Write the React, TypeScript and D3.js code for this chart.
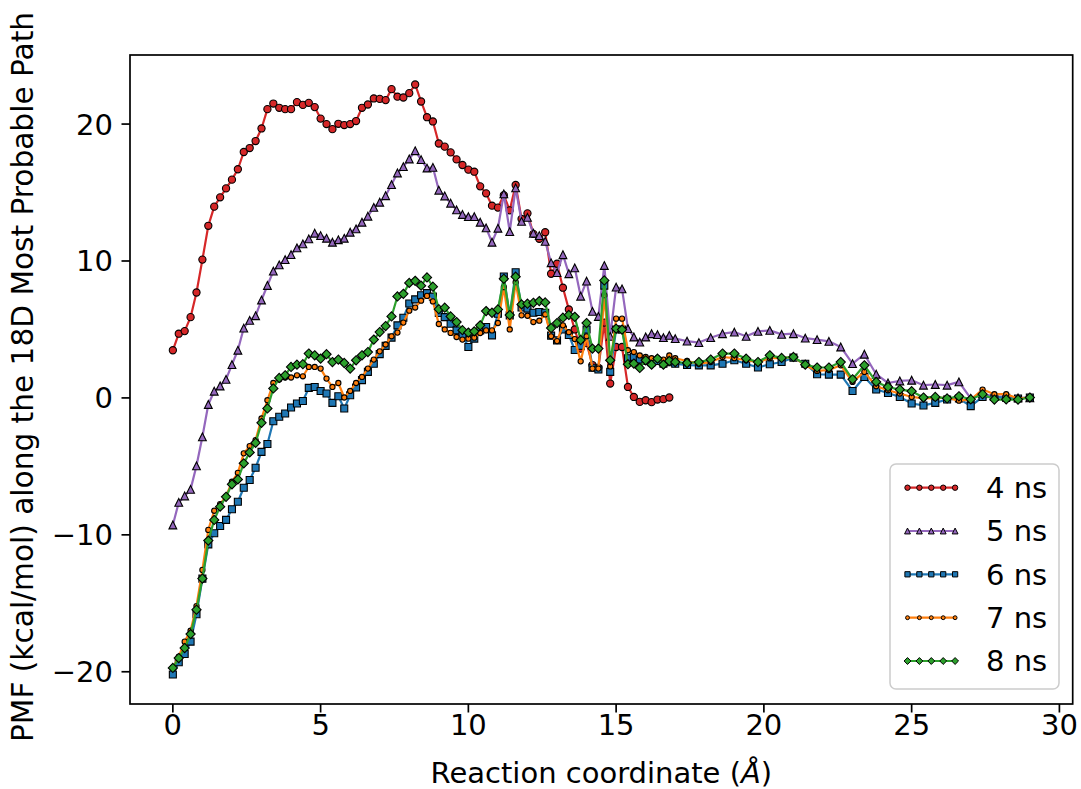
import React from 'react';
import * as d3 from 'd3';

// reaction coordinate grid (A): 0.2 steps up to 17, then 0.4 steps
const xGrid = [
  0, 0.2, 0.4, 0.6, 0.8, 1, 1.2, 1.4, 1.6, 1.8,
  2, 2.2, 2.4, 2.6, 2.8, 3, 3.2, 3.4, 3.6, 3.8,
  4, 4.2, 4.4, 4.6, 4.8, 5, 5.2, 5.4, 5.6, 5.8,
  6, 6.2, 6.4, 6.6, 6.8, 7, 7.2, 7.4, 7.6, 7.8,
  8, 8.2, 8.4, 8.6, 8.8, 9, 9.2, 9.4, 9.6, 9.8,
  10, 10.2, 10.4, 10.6, 10.8, 11, 11.2, 11.4, 11.6, 11.8,
  12, 12.2, 12.4, 12.6, 12.8, 13, 13.2, 13.4, 13.6, 13.8,
  14, 14.2, 14.4, 14.6, 14.8, 15, 15.2, 15.4, 15.6, 15.8,
  16, 16.2, 16.4, 16.6, 16.8, 17,
  17.4, 17.8, 18.2, 18.6, 19, 19.4, 19.8, 20.2, 20.6, 21,
  21.4, 21.8, 22.2, 22.6, 23, 23.4, 23.8, 24.2, 24.6, 25,
  25.4, 25.8, 26.2, 26.6, 27, 27.4, 27.8, 28.2, 28.6, 29,
];

const pmf4ns = [
  3.48, 4.69, 4.88, 5.9, 7.7, 10.1, 12.57, 13.97, 14.65, 15.3,
  15.94, 16.7, 17.96, 18.25, 18.76, 19.68, 21.09, 21.5, 21.19, 21.09,
  21.09, 21.6, 21.4, 21.55, 21.24, 20.4, 20.0, 19.63, 20.02, 19.93,
  20.0, 20.22, 21.19, 21.43, 21.87, 21.84, 21.75, 22.55, 22.0, 21.94,
  22.26, 22.89, 21.65, 20.5, 20.19, 18.58, 18.35, 17.93, 17.42, 17.01,
  16.67, 16.52, 15.45, 14.94, 14.04, 13.9, 14.8, 13.7, 15.55, 13.07,
  13.48, 11.98, 11.62, 12.1, 9.07, 9.8, 8.05, 6.46, 5.0, 3.6,
  4.0, 2.4, 2.2, 5.5, 1.05, 3.72, 3.72, 0.8, 0.07, -0.29,
  -0.17, -0.31, -0.12, -0.09, 0.03,
];

const pmf5ns = [
  -9.28, -7.63, -7.16, -6.68, -4.96, -2.84, -0.48, 0.49, 0.87, 1.36,
  2.43, 3.48, 5.1, 5.66, 6.0, 7.15, 8.21, 9.26, 9.72, 10.1,
  10.47, 10.96, 11.25, 11.62, 12.03, 11.86, 11.66, 11.37, 11.55, 11.66,
  12.1, 12.35, 12.83, 13.27, 13.92, 14.29, 14.77, 15.58, 16.43, 16.89,
  17.45, 18.05, 17.4, 16.79, 16.84, 15.17, 14.75, 14.22, 13.74, 13.4,
  13.24, 13.24, 12.83, 12.42, 11.37, 12.39, 14.9, 12.15, 15.34, 12.9,
  13.19, 12.03, 11.86, 11.44, 9.87, 9.15, 10.46, 9.07, 9.5, 7.43,
  8.53, 6.32, 5.95, 9.67, 4.5, 8.09, 7.97, 5.06, 4.45, 4.08,
  4.45, 4.69, 4.62, 4.4, 4.57, 4.33,
  4.15, 4.04, 4.4, 4.69, 4.81, 4.5, 4.86, 4.93, 4.64, 4.69,
  4.37, 4.26, 4.13, 3.72, 2.51, 3.19, 1.73, 1.09, 1.24, 1.29,
  0.93, 0.98, 0.93, 1.17, -0.04, 0.3, 0.1, 0.1, 0.0, 0.0,
];

const pmf6ns = [
  -20.2, -19.3, -18.7, -17.8, -15.8, -13.2, -10.7, -9.88, -9.35, -8.91,
  -8.13, -7.58, -6.56, -6.0, -5.1, -3.94, -3.37, -1.7, -1.38, -1.14,
  -0.7, -0.41, -0.22, 0.73, 0.8, 0.51, 0.32, -0.36, 0.12, -0.77,
  0.2, 0.76, 1.3, 1.9, 2.5, 3.2, 3.8, 4.4, 5.3, 5.86,
  6.9, 7.2, 7.5, 7.65, 7.4, 6.2, 5.9, 5.42, 4.93, 4.57,
  3.72, 4.33, 4.93, 5.18, 4.57, 6.15, 8.87, 6.03, 9.18, 6.6,
  6.52, 6.22, 6.27, 6.22, 4.55, 4.2, 5.0, 4.6, 3.5, 3.8,
  5.0, 2.2, 2.07, 8.2, 1.9, 5.0, 5.0, 2.9, 3.0, 2.8,
  2.7, 2.6, 2.7, 2.5, 2.6, 2.5,
  2.4, 2.38, 2.38, 2.5, 2.75, 2.5, 2.22, 2.46, 2.62, 2.94,
  2.5, 1.73, 1.7, 1.7, 0.51, 1.53, 0.61, 0.36, 0.07, -0.41,
  -0.55, -0.36, -0.12, -0.04, -0.6, 0.07, 0.07, 0.0, -0.04, 0.03,
];

const pmf7ns = [
  -19.7, -18.9, -17.8, -17.0, -15.2, -12.56, -9.64, -8.24, -7.75, -7.2,
  -6.12, -5.47, -4.05, -3.52, -3.08, -1.5, -0.17, 1.09, 1.34, 1.49,
  1.49, 1.65, 1.58, 2.26, 2.26, 2.14, 1.41, 0.8, 1.09, 0.03,
  0.51, 1.09, 1.53, 2.14, 2.8, 3.4, 3.9, 4.5, 4.77, 5.5,
  6.37, 6.6, 7.1, 7.45, 7.05, 5.4, 5.0, 4.75, 4.45, 4.26,
  4.33, 4.4, 4.74, 4.93, 4.93, 5.47, 8.09, 5.0, 8.45, 6.03,
  6.0, 5.54, 5.64, 6.1, 4.5, 4.15, 5.3, 4.8, 4.3, 2.67,
  4.5, 2.14, 2.14, 7.5, 2.3, 5.79, 5.79, 3.48, 3.35, 3.1,
  2.99, 2.9, 2.9, 2.8, 3.1, 2.9,
  2.7, 2.5, 2.62, 2.99, 2.9, 2.75, 2.62, 2.9, 2.9, 2.99,
  2.38, 1.97, 2.04, 2.38, 1.17, 1.9, 0.85, 0.56, 0.32, 0.07,
  -0.04, 0.0, 0.0, -0.2, -0.12, 0.61, 0.27, 0.27, -0.04, 0.03,
];

const pmf8ns = [
  -19.72, -19.0, -18.27, -17.25, -15.47, -13.19, -10.42, -8.91, -7.94, -7.22,
  -6.31, -5.95, -4.78, -3.98, -3.28, -1.82, -0.77, 0.69, 1.46, 1.65,
  2.26, 2.43, 2.46, 3.24, 3.11, 2.87, 3.19, 2.62, 2.8, 2.55,
  2.14, 2.75, 3.11, 3.35, 4.26, 4.81, 5.25, 5.95, 7.41, 7.6,
  8.4, 8.55, 8.2, 8.8, 8.12, 6.48, 6.59, 5.95, 5.54, 4.95,
  4.77, 4.86, 5.3, 6.34, 6.22, 6.46, 8.7, 6.05, 8.85, 6.83,
  6.88, 6.95, 7.07, 6.97, 5.1, 5.47, 5.86, 6.06, 5.92, 4.23,
  5.47, 3.6, 3.6, 8.58, 2.75, 5.06, 4.99, 2.46, 2.51, 2.19,
  2.75, 2.43, 2.87, 2.43, 2.7, 2.62,
  2.55, 2.62, 2.8, 3.24, 3.24, 2.87, 2.62, 3.11, 2.92, 2.99,
  2.43, 2.22, 2.22, 2.62, 1.36, 2.38, 1.17, 0.8, 0.61, 0.49,
  0.03, 0.07, -0.04, 0.12, -0.1, 0.27, -0.12, -0.1, -0.12, 0.03,
];

const seriesLabels = ['4 ns', '5 ns', '6 ns', '7 ns', '8 ns'];
const seriesValues = [pmf4ns, pmf5ns, pmf6ns, pmf7ns, pmf8ns];
const seriesColors = ['#d62728', '#9467bd', '#1f77b4', '#ff7f0e', '#2ca02c'];
const seriesMarkers = ['circle', 'triangle', 'square', 'smallcircle', 'diamond'];

const xTicks = [0, 5, 10, 15, 20, 25, 30];
const yTicks = [-20, -10, 0, 10, 20];

const W = 1081, H = 789;
const margin = { left: 130, right: 1072.7, top: 55, bottom: 704 };
const FONT = '"DejaVu Sans", sans-serif';

function markerPath(kind: string, s: number) {
  // s = scale factor (1 for plot, smaller for legend)
  if (kind === 'circle') {
    return d3.symbol(d3.symbolCircle, Math.PI * (3.6 * s) ** 2)()!;
  }
  if (kind === 'smallcircle') {
    return d3.symbol(d3.symbolCircle, Math.PI * (2.6 * s) ** 2)()!;
  }
  if (kind === 'square') {
    return d3.symbol(d3.symbolSquare, (7 * s) ** 2)()!;
  }
  if (kind === 'triangle') {
    const h = 3.9 * s;
    return `M0,${-h}L${h},${h}L${-h},${h}Z`;
  }
  const d = 4.6 * s;
  return `M0,${-d}L${d},0L0,${d}L${-d},0Z`;
}

const fmt = (v: number) => (v < 0 ? '\u2212' + Math.abs(v) : String(v));

export default function App() {
  const allY = seriesValues.flat();
  const [x0, x1] = d3.extent(xGrid) as [number, number];
  const [y0, y1] = d3.extent(allY) as [number, number];
  const xPad = (x1 - x0) * 0.05, yPad = (y1 - y0) * 0.05;

  const x = d3.scaleLinear().domain([x0 - xPad, x1 + xPad]).range([margin.left, margin.right]);
  const y = d3.scaleLinear().domain([y0 - yPad, y1 + yPad]).range([margin.bottom, margin.top]);

  const line = d3.line<[number, number]>()
    .x(d => x(d[0]))
    .y(d => y(d[1]));

  const legendRowY = [487.7, 531, 574.3, 617.7, 661];

  return (
    <svg width={W} height={H} style={{ position: 'absolute', left: 0, top: 0, background: '#fff' }}
      fontFamily={FONT}>
      <rect x={0} y={0} width={W} height={H} fill="#fff" />

      {seriesValues.map((vals, i) => {
        const pts = vals.map((v, j) => [xGrid[j], v] as [number, number]);
        const mp = markerPath(seriesMarkers[i], 1);
        return (
          <g key={seriesLabels[i]}>
            <path d={line(pts)!} fill="none" stroke={seriesColors[i]} strokeWidth={2.2} strokeLinejoin="round" />
            {pts.map((p, j) => (
              <path key={j} d={mp} transform={`translate(${x(p[0])},${y(p[1])})`}
                fill={seriesColors[i]} stroke="#000" strokeWidth={1.1} />
            ))}
          </g>
        );
      })}

      {/* axes frame */}
      <rect x={margin.left} y={margin.top} width={margin.right - margin.left} height={margin.bottom - margin.top}
        fill="none" stroke="#000" strokeWidth={1.7} />

      {xTicks.map(t => (
        <g key={'x' + t}>
          <line x1={x(t)} x2={x(t)} y1={margin.bottom} y2={margin.bottom + 8.5} stroke="#000" strokeWidth={1.7} />
          <text x={x(t)} y={735} textAnchor="middle" fontSize={29} fill="#000">{fmt(t)}</text>
        </g>
      ))}
      {yTicks.map(t => (
        <g key={'y' + t}>
          <line x1={margin.left - 8.5} x2={margin.left} y1={y(t)} y2={y(t)} stroke="#000" strokeWidth={1.7} />
          <text x={113} y={y(t)} dy="0.36em" textAnchor="end" fontSize={29} fill="#000">{fmt(t)}</text>
        </g>
      ))}

      <text x={(margin.left + margin.right) / 2} y={783} textAnchor="middle" fontSize={29} fill="#000">
        Reaction coordinate (<tspan fontStyle="italic">Å</tspan>)
      </text>
      <text transform={`translate(33,377) rotate(-90)`} textAnchor="middle"
        fontSize={29.6} fill="#000">
        PMF (kcal/mol) along the 18D Most Probable Path
      </text>

      {/* legend */}
      <rect x={890} y={464} width={169} height={225} rx={6} ry={6} fill="#fff" fillOpacity={0.8}
        stroke="#cccccc" strokeWidth={1.5} />
      {seriesLabels.map((lab, i) => {
        const cy = legendRowY[i];
        const sx = d3.range(5).map(k => 907.5 + k * 11.9);
        const mp = markerPath(seriesMarkers[i], 0.75);
        return (
          <g key={'leg' + lab}>
            <line x1={907.5} x2={955} y1={cy} y2={cy} stroke={seriesColors[i]} strokeWidth={2.2} />
            {sx.map((px, k) => (
              <path key={k} d={mp} transform={`translate(${px},${cy})`} fill={seriesColors[i]}
                stroke="#000" strokeWidth={1} />
            ))}
            <text x={986} y={cy} dy="0.36em" fontSize={29} fill="#000">{lab}</text>
          </g>
        );
      })}
    </svg>
  );
}
